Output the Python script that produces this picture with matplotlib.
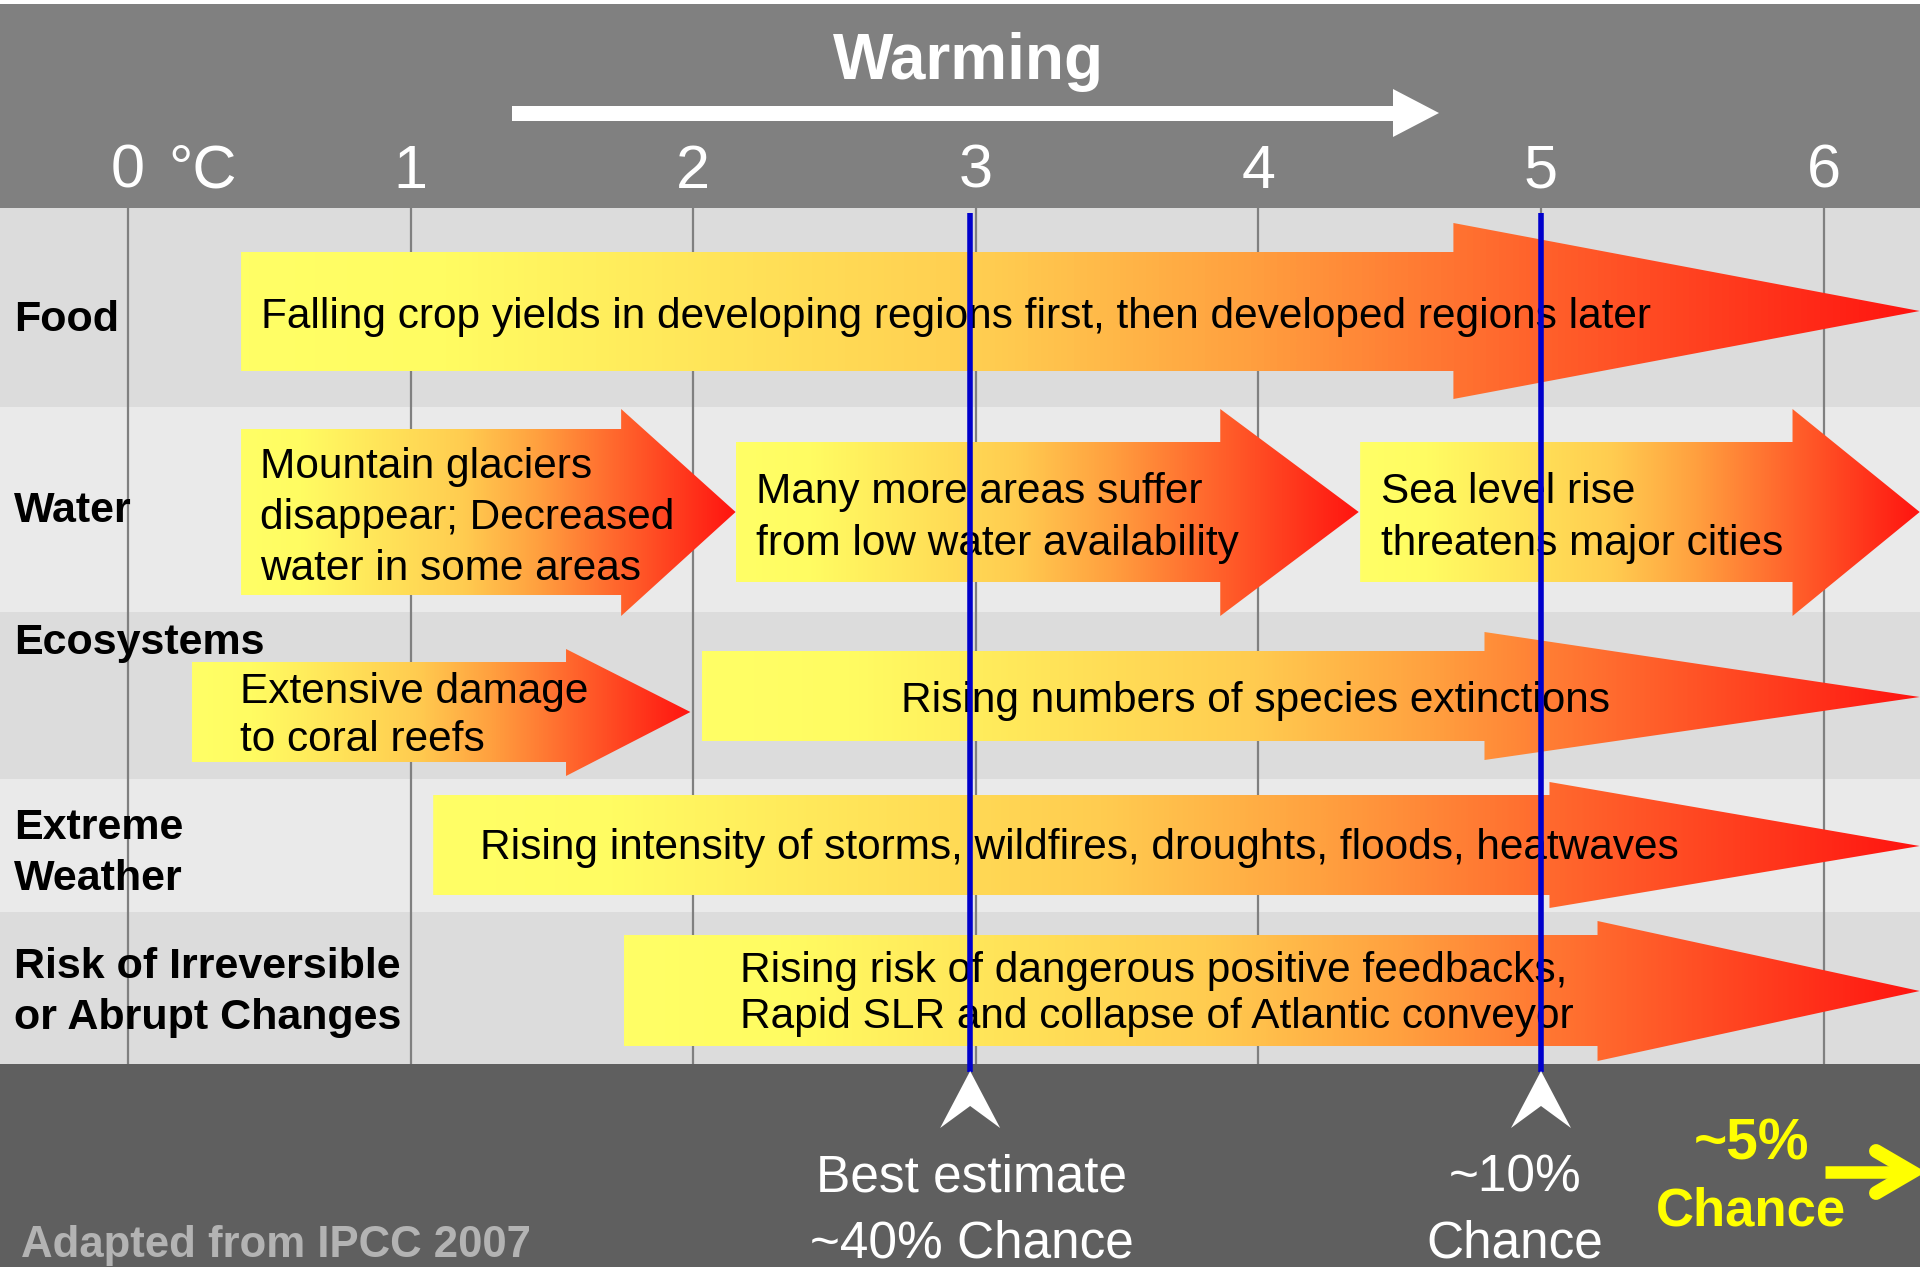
import numpy as np
import matplotlib
matplotlib.use("Agg")
import matplotlib.pyplot as plt
from matplotlib.colors import LinearSegmentedColormap
from matplotlib.patches import Polygon, Rectangle

plt.rcParams["font.family"] = ["Liberation Sans", "DejaVu Sans"]

# ---- chart content -------------------------------------------------------
TEMPS = [0, 1, 2, 3, 4, 5, 6]
TEMP_LABELS = ["0", "1", "2", "3", "4", "5", "6"]
TEMP_UNIT = "°C"
TITLE = "Warming"

SECTORS = [["Food"], ["Water"], ["Ecosystems"], ["Extreme", "Weather"],
           ["Risk of Irreversible", "or Abrupt Changes"]]

IMPACT_TEXT = [
    ["Falling crop yields in developing regions first, then developed regions later"],
    ["Mountain glaciers", "disappear; Decreased", "water in some areas"],
    ["Many more areas suffer", "from low water availability"],
    ["Sea level rise", "threatens major cities"],
    ["Extensive damage", "to coral reefs"],
    ["Rising numbers of species extinctions"],
    ["Rising intensity of storms, wildfires, droughts, floods, heatwaves"],
    ["Rising risk of dangerous positive feedbacks,", "Rapid SLR and collapse of Atlantic conveyor"],
]
# warming (deg C) where each impact band starts, where its arrow head begins, and its tip
IMPACT_FROM = [0.40, 0.40, 2.15, 4.36, 0.225, 2.03, 1.08, 1.755]
IMPACT_HEAD = [4.69, 1.745, 3.865, 5.89, 1.55, 4.80, 5.03, 5.20]
IMPACT_TO = [6.34, 2.15, 4.355, 6.34, 1.99, 6.34, 6.34, 6.34]

MARKER_TEMPS = [2.98, 5.0]
MARKER_TEXT = [["Best estimate", "~40% Chance"], ["~10%", "Chance"]]
TAIL_TEXT = ["~5%", "Chance"]
SOURCE = "Adapted from IPCC 2007"

# ---- layout (pixels, y measured from the top) ----------------------------
W, H = 1920, 1267
PX0, PX_DEG = 128, 282.6


def tx(px):
    return (px - PX0) / PX_DEG


ROW_EDGES = [208, 407, 612, 779, 912, 1064]
ROW_COLORS = ["#DCDCDC", "#EAEAEA", "#DCDCDC", "#EAEAEA", "#DCDCDC"]
SECTOR_Y = [331, 522, 654, 839, 978]
# body top, body bottom, head top, head bottom, tip y
ARROW_Y = [
    (252, 371, 223, 399, 311),
    (429, 595, 409, 616, 512),
    (442, 582, 409, 616, 512),
    (442, 582, 409, 616, 512),
    (662, 762, 649, 776, 712),
    (651, 741, 632, 760, 697),
    (795, 895, 782, 908, 846),
    (935, 1046, 921, 1061, 991),
]
TEXT_X = [261, 260, 756, 1381, 240, 901, 480, 740]
TEXT_Y = [328, 478, 503, 503, 703, 712, 859, 982]
TEXT_DY = [0, 51, 52, 52, 48, 0, 0, 46]

heat = LinearSegmentedColormap.from_list(
    "heat",
    [(0.0, "#FFFF66"), (0.12, "#FFFC62"), (0.45, "#FFCC50"), (0.6, "#FFA03F"),
     (0.75, "#FF6A2E"), (1.0, "#FF1410")])

fig = plt.figure(figsize=(19.2, 12.67), dpi=100, facecolor="white")
ax = fig.add_axes([0, 0, 1, 1])
ax.axis("off")

# bands
ax.add_patch(Rectangle((tx(0), 4), tx(W) - tx(0), ROW_EDGES[0] - 4, fc="#808080", ec="none", zorder=0))
ax.add_patch(Rectangle((tx(0), ROW_EDGES[-1]), tx(W) - tx(0), H - ROW_EDGES[-1], fc="#5F5F5F", ec="none", zorder=0))
for i, c in enumerate(ROW_COLORS):
    ax.add_patch(Rectangle((tx(0), ROW_EDGES[i]), tx(W) - tx(0), ROW_EDGES[i + 1] - ROW_EDGES[i],
                           fc=c, ec="none", zorder=0))

ax.vlines(TEMPS, ROW_EDGES[0], ROW_EDGES[-1], color="#808080", lw=1.6, zorder=1)

# header
ax.text(tx(968), 79, TITLE, color="white", fontsize=46, fontweight="bold", ha="center", va="baseline")
ax.add_patch(Polygon([(tx(512), 106), (tx(1393), 106), (tx(1393), 89), (tx(1439), 113),
                      (tx(1393), 137), (tx(1393), 121), (tx(512), 121)], fc="white", ec="none"))
for t, lab in zip(TEMPS, TEMP_LABELS):
    ax.text(t, 188, lab, color="white", fontsize=44, ha="center", va="baseline")
ax.text(tx(168), 188, TEMP_UNIT, color="white", fontsize=44, ha="left", va="baseline")

# impact arrows
grad = np.linspace(0, 1, 512).reshape(1, -1)
for i, lines in enumerate(IMPACT_TEXT):
    x0, xh, x1 = IMPACT_FROM[i], IMPACT_HEAD[i], IMPACT_TO[i]
    bt, bb, ht, hb, ty = ARROW_Y[i]
    poly = Polygon([(x0, bt), (xh, bt), (xh, ht), (x1, ty), (xh, hb), (xh, bb), (x0, bb)],
                   closed=True, fc="none", ec="none")
    ax.add_patch(poly)
    im = ax.imshow(grad, cmap=heat, extent=(x0, x1, hb, ht), aspect="auto",
                   interpolation="bilinear", zorder=2)
    im.set_clip_path(poly)
    for k, line in enumerate(lines):
        ax.text(tx(TEXT_X[i]), TEXT_Y[i] + k * TEXT_DY[i], line, fontsize=30.5,
                ha="left", va="baseline", zorder=3)

# sector labels
for lines, y in zip(SECTORS, SECTOR_Y):
    for k, line in enumerate(lines):
        ax.text(tx(14), y + k * 51, line, fontsize=31, fontweight="bold",
                ha="left", va="baseline", zorder=3)

# probability markers
ax.vlines(MARKER_TEMPS, 213, 1072, color="#0000CC", lw=4, zorder=4)
hw = 30 / PX_DEG
for t in MARKER_TEMPS:
    ax.add_patch(Polygon([(t - hw, 1128), (t, 1071), (t + hw, 1128), (t, 1106)],
                         fc="white", ec="none", zorder=5))
for lines, x in zip(MARKER_TEXT, [972, 1515]):
    for k, line in enumerate(lines):
        ax.text(tx(x), 1192 + k * 65, line, color="white", fontsize=37,
                ha="center", va="baseline")

ax.text(tx(1752), 1160, TAIL_TEXT[0], color="#FFFF00", fontsize=41,
        fontweight="bold", ha="center", va="baseline")
ax.text(tx(1751), 1225, TAIL_TEXT[1], color="#FFFF00", fontsize=38,
        fontweight="bold", ha="center", va="baseline")
ax.plot([tx(1825), tx(1905)], [1172, 1172], color="#FFFF00", lw=9, solid_capstyle="butt")
ax.plot([tx(1876), tx(1912), tx(1876)], [1151, 1172, 1193], color="#FFFF00", lw=10,
        solid_capstyle="round", solid_joinstyle="miter")

ax.text(tx(21), 1257, SOURCE, color="#B3B3B3", fontsize=31.5, fontweight="bold",
        ha="left", va="baseline")

ax.set_xlim(tx(0), tx(W))
ax.set_ylim(H, 0)

fig.savefig("out.png", dpi=100, facecolor="white")
